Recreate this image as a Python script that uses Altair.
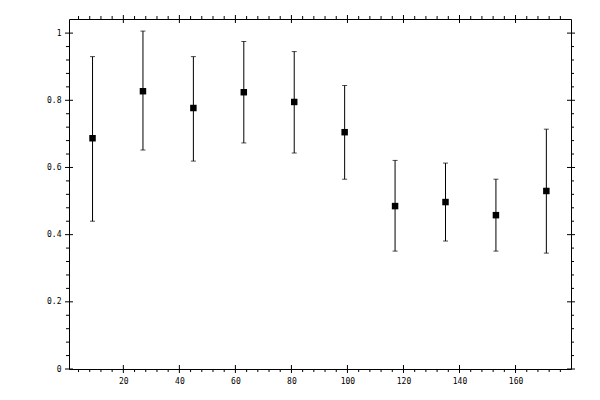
import altair as alt
import pandas as pd

# data
xs = [9, 27, 45, 63, 81, 99, 117, 135, 153, 171]
ys = [0.687, 0.827, 0.777, 0.824, 0.795, 0.705, 0.485, 0.497, 0.458, 0.530]
hi = [0.930, 1.006, 0.930, 0.975, 0.945, 0.844, 0.621, 0.613, 0.565, 0.714]
lo = [0.440, 0.652, 0.619, 0.673, 0.643, 0.565, 0.351, 0.381, 0.351, 0.345]

x_major = [20, 40, 60, 80, 100, 120, 140, 160]
x_minor = [v for v in range(4, 180, 4) if v % 20 != 0]
y_major = [0, 0.2, 0.4, 0.6, 0.8, 1.0]
y_minor = [round(i * 0.04, 2) for i in range(1, 25) if i % 5 != 0]

X_DOMAIN = [0.6, 179.8]
Y_DOMAIN = [0, 1.042]
W, H = 502, 350
FONT = "DejaVu Sans Mono"

df = pd.DataFrame({"x": xs, "y": ys, "hi": hi, "lo": lo})
xmaj = pd.DataFrame({"v": x_major})
xmin = pd.DataFrame({"v": x_minor})
ymaj = pd.DataFrame({"v": y_major})
ymin = pd.DataFrame({"v": y_minor})

xscale = alt.Scale(domain=X_DOMAIN, nice=False, zero=False)
yscale = alt.Scale(domain=Y_DOMAIN, nice=False, zero=False)

xaxis = alt.Axis(values=x_major, ticks=False, domain=False, grid=False,
                 labelPadding=8, labelFont=FONT, labelFontSize=8,
                 labelColor="black", format="d", title=None)
yaxis = alt.Axis(values=y_major, ticks=False, domain=False, grid=False,
                 labelPadding=8, labelFont=FONT, labelFontSize=8,
                 labelColor="black", format="~g", title=None)

base = alt.Chart(df)
bars = base.mark_rule(color="black", strokeWidth=1).encode(
    x=alt.X("x:Q", scale=xscale, axis=xaxis),
    y=alt.Y("lo:Q", scale=yscale, axis=yaxis),
    y2="hi:Q",
)
cap_hi = base.mark_tick(orient="horizontal", size=5, thickness=1, color="black").encode(
    x=alt.X("x:Q", axis=xaxis), y=alt.Y("hi:Q", axis=yaxis))
cap_lo = base.mark_tick(orient="horizontal", size=5, thickness=1, color="black").encode(
    x=alt.X("x:Q", axis=xaxis), y=alt.Y("lo:Q", axis=yaxis))
pts = base.mark_point(shape="square", filled=True, size=42, color="black", opacity=1).encode(
    x=alt.X("x:Q", axis=xaxis), y=alt.Y("y:Q", axis=yaxis))

tk = dict(thickness=1, color="black", opacity=1)
bot_major = alt.Chart(xmaj).mark_tick(orient="vertical", size=8, **tk).encode(
    x=alt.X("v:Q", axis=xaxis), y=alt.value(H))
top_major = alt.Chart(xmaj).mark_tick(orient="vertical", size=8, **tk).encode(
    x=alt.X("v:Q", axis=xaxis), y=alt.value(0))
bot_minor = alt.Chart(xmin).mark_tick(orient="vertical", size=3, yOffset=1.5, **tk).encode(
    x=alt.X("v:Q", axis=xaxis), y=alt.value(H))
top_minor = alt.Chart(xmin).mark_tick(orient="vertical", size=3, yOffset=-1.5, **tk).encode(
    x=alt.X("v:Q", axis=xaxis), y=alt.value(0))
left_major = alt.Chart(ymaj).mark_tick(orient="horizontal", size=8, **tk).encode(
    y=alt.Y("v:Q", axis=yaxis), x=alt.value(0))
right_major = alt.Chart(ymaj).mark_tick(orient="horizontal", size=8, **tk).encode(
    y=alt.Y("v:Q", axis=yaxis), x=alt.value(W))
left_minor = alt.Chart(ymin).mark_tick(orient="horizontal", size=3, xOffset=-1.5, **tk).encode(
    y=alt.Y("v:Q", axis=yaxis), x=alt.value(0))
right_minor = alt.Chart(ymin).mark_tick(orient="horizontal", size=3, xOffset=1.5, **tk).encode(
    y=alt.Y("v:Q", axis=yaxis), x=alt.value(W))

chart = alt.layer(
    bars, cap_hi, cap_lo, pts,
    bot_major, top_major, bot_minor, top_minor,
    left_major, right_major, left_minor, right_minor,
).properties(
    width=W, height=H,
    autosize=alt.AutoSizeParams(type="none"),
    padding={"left": 61, "top": 11, "right": 21, "bottom": 23},
    background="white",
).configure_view(stroke="black", strokeWidth=1)

chart.save("out.html", embed_options={"renderer": "svg", "actions": False})
